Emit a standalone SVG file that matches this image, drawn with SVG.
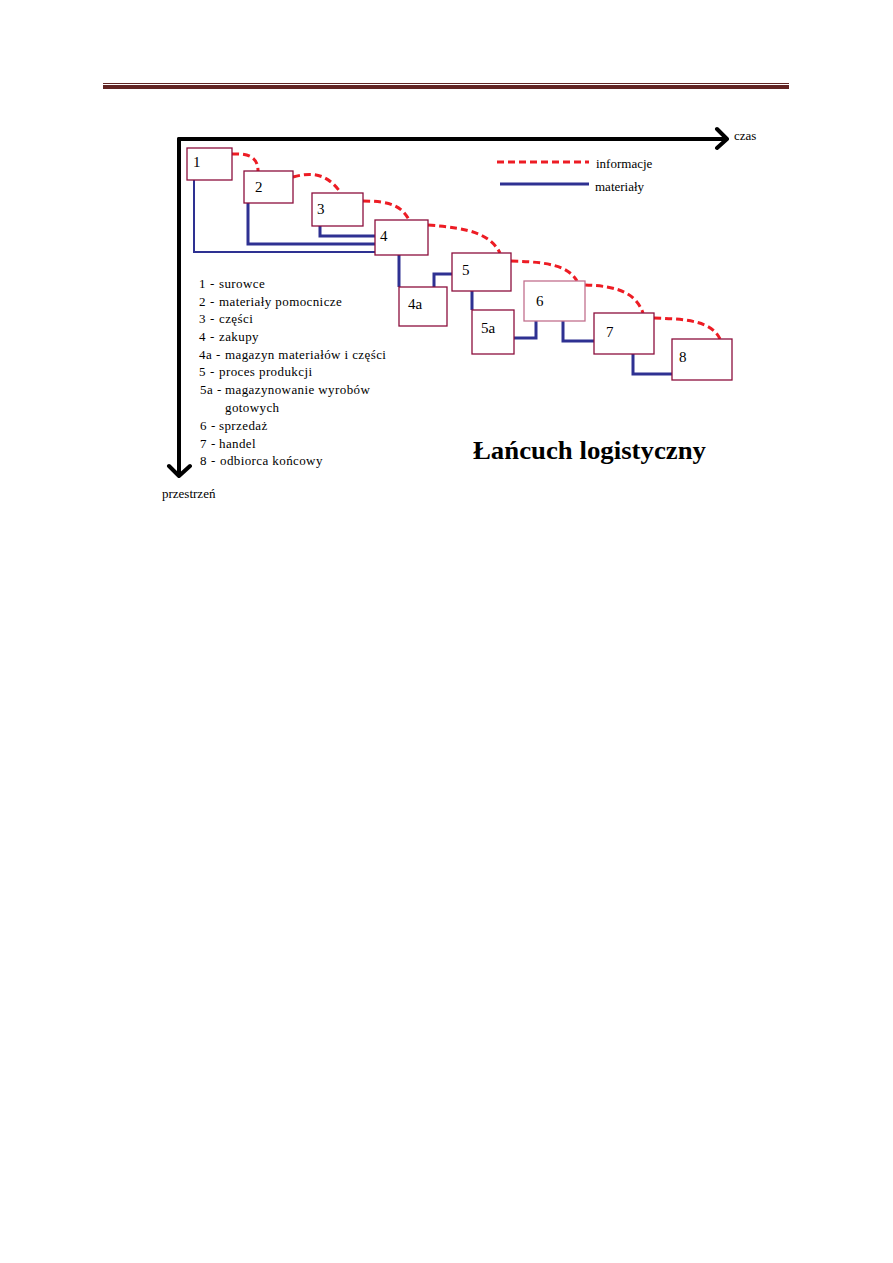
<svg xmlns="http://www.w3.org/2000/svg" width="893" height="1263" viewBox="0 0 893 1263">
<style>
.box{fill:#fff;stroke:#8c0f3c;stroke-width:1.3}
.boxl{fill:#fff;stroke:#c2708e;stroke-width:1.3}
.num{font-family:"Liberation Serif",serif;font-size:15px;fill:#000}
.leg{font-family:"Liberation Serif",serif;font-size:13px;fill:#000}
.key{font-family:"Liberation Serif",serif;font-size:13px;fill:#000;letter-spacing:0.4px}
.info{fill:none;stroke:#ed1c24;stroke-width:3;stroke-dasharray:7,4}
.mat{fill:none;stroke:#2e3192;stroke-width:3}
.axis{fill:none;stroke:#000;stroke-width:4;stroke-linecap:round;stroke-linejoin:round}
</style>
<rect width="893" height="1263" fill="#fff"/>
<g id="header">
<rect x="103" y="83" width="686" height="1" fill="#622423"/>
<rect x="103" y="85" width="686" height="4" fill="#622423"/>
</g>
<g id="axes">
<path class="axis" d="M179,139 H727 M717,129 L727,139 L717,148"/>
<path class="axis" d="M179,139 V476 M169,466 L179,476 L190,466"/>
<text class="leg" x="734" y="140">czas</text>
<text class="leg" x="162" y="498">przestrzeń</text>
</g>
<g id="connectors">
<path class="mat" style="stroke-width:2" d="M194,180 V252 H375"/>
<path class="mat" d="M248,203 V244 H375"/>
<path class="mat" d="M320,226 V236 H375"/>
<path class="mat" d="M399,255 V287"/>
<path class="mat" d="M434,287 V274 H452"/>
<path class="mat" d="M472,291 V310"/>
<path class="mat" d="M514,338 H536 V321"/>
<path class="mat" d="M563,321 V341 H594"/>
<path class="mat" d="M633,354 V374 H672"/>
<path class="info" d="M232,154 C250,153 258,158 258,171"/>
<path class="info" d="M293,177 C318,170 330,178 341,193"/>
<path class="info" d="M363,201 C390,201 402,206 409,220"/>
<path class="info" d="M428,225 C470,228 490,234 500,253"/>
<path class="info" d="M511,261 C550,262 568,266 577,281"/>
<path class="info" d="M585,285 C620,286 636,294 643,313"/>
<path class="info" d="M654,318 C690,319 712,322 720,339"/>
</g>
<g id="n1"><rect class="box" x="187" y="148" width="45" height="32"/><text class="num" x="193" y="167">1</text></g>
<g id="n2"><rect class="box" x="244" y="171" width="49" height="32"/><text class="num" x="255" y="192">2</text></g>
<g id="n3"><rect class="box" x="312" y="193" width="51" height="33"/><text class="num" x="317" y="214">3</text></g>
<g id="n4"><rect class="box" x="375" y="220" width="53" height="35"/><text class="num" x="380" y="241">4</text></g>
<g id="n4a"><rect class="box" x="399" y="287" width="48" height="39"/><text class="num" x="408" y="309">4a</text></g>
<g id="n5"><rect class="box" x="452" y="253" width="59" height="38"/><text class="num" x="462" y="275">5</text></g>
<g id="n5a"><rect class="box" x="472" y="310" width="42" height="44"/><text class="num" x="481" y="333">5a</text></g>
<g id="n6"><rect class="boxl" x="524" y="281" width="61" height="40"/><text class="num" x="536" y="306">6</text></g>
<g id="n7"><rect class="box" x="594" y="313" width="60" height="41"/><text class="num" x="606" y="337">7</text></g>
<g id="n8"><rect class="box" x="672" y="339" width="60" height="41"/><text class="num" x="679" y="362">8</text></g>
<g id="legend">
<line class="info" x1="497" y1="162" x2="589" y2="162"/>
<line class="mat" x1="500" y1="184" x2="589" y2="184"/>
<text class="leg" x="596" y="168">informacje</text>
<text class="leg" x="595" y="191">materiały</text>
</g>
<g id="key">
<text class="key" y="288"><tspan x="199">1</tspan><tspan x="210">-</tspan><tspan x="219">surowce</tspan></text>
<text class="key" y="306"><tspan x="199">2</tspan><tspan x="210">-</tspan><tspan x="219">materiały pomocnicze</tspan></text>
<text class="key" y="323"><tspan x="199">3</tspan><tspan x="210">-</tspan><tspan x="219">części</tspan></text>
<text class="key" y="341"><tspan x="199">4</tspan><tspan x="210">-</tspan><tspan x="219">zakupy</tspan></text>
<text class="key" y="359"><tspan x="199">4a</tspan><tspan x="216">-</tspan><tspan x="225">magazyn materiałów i części</tspan></text>
<text class="key" y="376"><tspan x="199">5</tspan><tspan x="210">-</tspan><tspan x="219">proces produkcji</tspan></text>
<text class="key" y="394"><tspan x="200">5a</tspan><tspan x="217">-</tspan><tspan x="225">magazynowanie wyrobów</tspan></text>
<text class="key" x="225" y="412">gotowych</text>
<text class="key" y="430"><tspan x="200">6</tspan><tspan x="211">-</tspan><tspan x="219">sprzedaż</tspan></text>
<text class="key" y="448"><tspan x="200">7</tspan><tspan x="211">-</tspan><tspan x="219">handel</tspan></text>
<text class="key" y="465"><tspan x="200">8</tspan><tspan x="211">-</tspan><tspan x="220">odbiorca końcowy</tspan></text>
</g>
<text x="473" y="459" textLength="233" lengthAdjust="spacingAndGlyphs" style="font-family:'Liberation Serif',serif;font-size:26px;font-weight:bold" fill="#000">Łańcuch logistyczny</text>
</svg>
